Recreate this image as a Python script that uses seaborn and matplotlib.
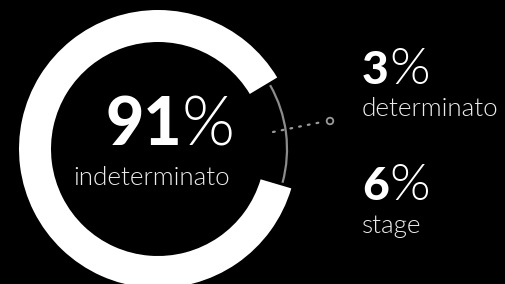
import numpy as np
import matplotlib
matplotlib.use("Agg")
import matplotlib.pyplot as plt
from matplotlib.patches import Wedge, Arc, Circle
import seaborn as sns

# shares in percent
labels = ["indeterminato", "determinato", "stage"]
shares = [91, 3, 6]

sns.set_theme(style="dark", rc={"axes.facecolor": "black", "figure.facecolor": "black"})
plt.rcParams["font.family"] = ["Lato", "DejaVu Sans"]

W, H = 505, 284
fig = plt.figure(figsize=(W / 100, H / 100), dpi=100)
ax = fig.add_axes([0, 0, 1, 1])
ax.set_xlim(0, W)
ax.set_ylim(0, H)
ax.set_aspect("equal")
ax.axis("off")

# ring geometry (pixels)
cx, cy = 158, 135
R, ring_w = 139, 32
pad = 7.5  # degrees trimmed off each end of the main arc
mid = 187.25  # direction the main arc is centred on

main_span = shares[0] / 100 * 360 - 2 * pad
t1 = mid - main_span / 2
t2 = mid + main_span / 2
ax.add_patch(Wedge((cx, cy), R, t1, t2, width=ring_w, facecolor="white", edgecolor="none"))

# thin grey arc for the remaining shares, sitting in the gap
ax.add_patch(Arc((cx, cy), 2 * 129, 2 * 129, theta1=t2 - 360 + 1.3, theta2=t1 - 1.3,
                 color="#8c8c8c", lw=1.6))

# dotted leader to the small circle
xs = np.array([273, 322])
ys = H - np.array([132, 122])
ax.plot(xs, ys, ls=(0, (0.8, 3.2)), color="#9a9a9a", lw=1.6, dash_capstyle="round")
ax.add_patch(Circle((330, H - 121), 3.3, facecolor="none", edgecolor="#9a9a9a", lw=1.3))

fs = 72 / 100  # px -> pt
LIGHT = 300  # Lato Light ("light" would pick the thin cut)

def pct(x, y, value, size, psize, gap):
    t = ax.text(x, y, str(value), ha="left", va="baseline", color="white",
                fontsize=size * fs, fontweight="black")
    fig.canvas.draw()
    bb = t.get_window_extent()
    ax.text(bb.x1 + gap, y, "%", ha="left", va="baseline", color="white",
            fontsize=psize * fs, fontweight=LIGHT)

pct(105, H - 145, shares[0], 66, 68, 0)
ax.text(152, H - 185, labels[0], ha="center", va="baseline", color="#ececec",
        fontsize=26 * fs, fontweight=LIGHT)

pct(362, H - 84, shares[1], 46, 52, 1)
ax.text(362, H - 116, labels[1], ha="left", va="baseline", color="#ececec",
        fontsize=26 * fs, fontweight=LIGHT)

pct(362, H - 200, shares[2], 46, 52, 1)
ax.text(362, H - 233, labels[2], ha="left", va="baseline", color="#ececec",
        fontsize=26 * fs, fontweight=LIGHT)

fig.savefig("out.png", dpi=100, facecolor="black")
